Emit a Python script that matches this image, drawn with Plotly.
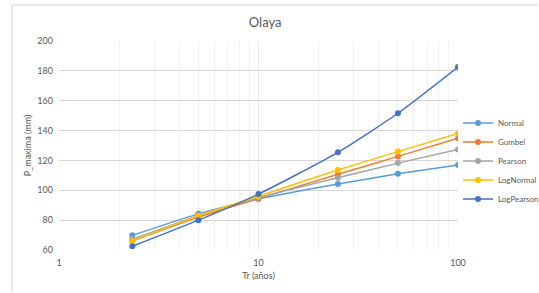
import plotly.graph_objects as go

tr = [2.33, 5, 10, 25, 50, 100]
normal = [69.8, 84.2, 94.2, 104.2, 111.0, 116.9]
gumbel = [66.0, 82.0, 94.5, 110.7, 122.7, 134.8]
pearson = [67.2, 83.0, 95.0, 108.4, 118.2, 127.3]
lognormal = [66.0, 83.0, 96.0, 113.6, 125.9, 138.1]
logpearson = [62.5, 80.0, 97.5, 125.4, 151.6, 182.6]

series = [
    ("Normal", normal, "#5B9BD5"),
    ("Gumbel", gumbel, "#ED7D31"),
    ("Pearson", pearson, "#A5A5A5"),
    ("LogNormal", lognormal, "#FFC000"),
    ("LogPearson", logpearson, "#4472C4"),
]

fig = go.Figure()
for name, vals, col in series:
    fig.add_trace(go.Scatter(
        x=tr, y=vals, name=name, mode="lines+markers",
        line=dict(color=col, width=1.5, shape="spline", smoothing=0.6),
        marker=dict(color=col, size=6),
    ))

font = "Lato, 'Open Sans', Arial, sans-serif"
fig.update_layout(
    width=539, height=293,
    margin=dict(l=59, r=81, t=41, b=43, autoexpand=False),
    paper_bgcolor="white", plot_bgcolor="white",
    font=dict(family=font, size=9, color="#595959"),
    title=dict(text="Olaya", x=0.492, xanchor="center", y=0.925, yanchor="middle",
               font=dict(size=13, color="#595959")),
    legend=dict(x=1.0, xanchor="left", y=0.426, yanchor="middle",
                font=dict(size=8, color="#595959"), tracegroupgap=0,
                itemwidth=30, bgcolor="rgba(0,0,0,0)"),
    showlegend=True,
)
fig.update_xaxes(
    type="log", range=[0, 2], tickvals=[1, 10, 100], ticktext=["1", "10", "100"],
    showgrid=True, gridcolor="#E6E6E6", gridwidth=1, automargin=False,
    minor=dict(showgrid=True, gridcolor="#F0F0F0", tickvals=[2,3,4,5,6,7,8,9,20,30,40,50,60,70,80,90]),
    zeroline=False, showline=False, ticks="", ticklabelstandoff=6,
    title=dict(text="Tr (años)", font=dict(size=9, color="#595959"), standoff=5),
    tickfont=dict(size=9, color="#595959"),
)
fig.update_yaxes(
    range=[60, 200], dtick=20, showgrid=True, gridcolor="#D9D9D9", gridwidth=1, automargin=False,
    zeroline=False, showline=False, ticks="", ticklabelstandoff=5,
    title=dict(text="P_maxima (mm)", font=dict(size=9, color="#595959"), standoff=4),
    tickfont=dict(size=9, color="#595959"),
)
fig.add_shape(type="line", xref="paper", yref="paper", x0=-47/399, x1=1.2, y0=1 + 36/209, y1=1 + 36/209,
              line=dict(color="#D0D0D0", width=1))
fig.add_shape(type="line", xref="paper", yref="paper", x0=-47/399, x1=-47/399, y0=1 + 36/209, y1=-0.2,
              line=dict(color="#D0D0D0", width=1))

fig.write_html("out.html", config={"displayModeBar": False},
               post_script="document.body.style.margin='0';document.body.style.overflow='hidden';")
